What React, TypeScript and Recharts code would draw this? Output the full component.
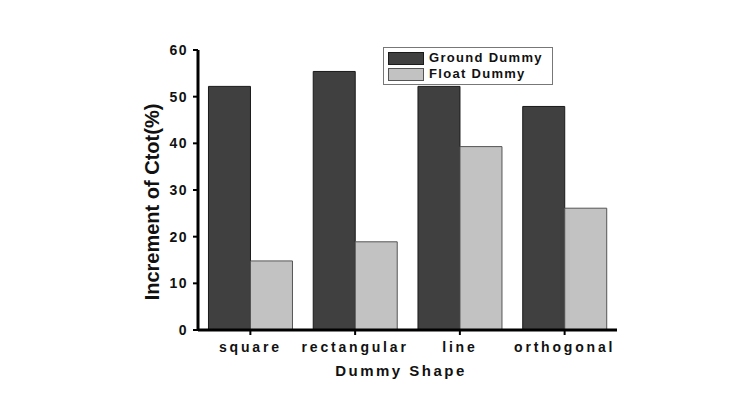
import { BarChart, Bar, XAxis, YAxis, Legend } from 'recharts'

const shapes = ['square', 'rectangular', 'line', 'orthogonal']
const groundDummy = [52.2, 55.4, 52.2, 47.9]
const floatDummy = [14.8, 18.9, 39.3, 26.1]
const yTicks = [0, 10, 20, 30, 40, 50, 60]

const FONT = '"Liberation Sans", Arial, sans-serif'

const data = shapes.map((shape, i) => ({
    shape,
    ground: groundDummy[i],
    float: floatDummy[i],
}))

const LegendBox = () => (
    <div
        style={{
            border: '1px solid #777',
            background: '#fff',
            padding: '2px 4px',
            width: 160,
            fontFamily: FONT,
            fontWeight: 'bold',
            fontSize: 13,
            letterSpacing: 1.3,
            color: '#111',
            lineHeight: '16px',
        }}
    >
        {[
            { label: 'Ground Dummy', fill: '#404040', stroke: '#1a1a1a' },
            { label: 'Float Dummy', fill: '#c2c2c2', stroke: '#555' },
        ].map(item => (
            <div key={item.label} style={{ display: 'flex', alignItems: 'center', gap: 5 }}>
                <div style={{ width: 34, height: 11, background: item.fill, border: `1px solid ${item.stroke}` }} />
                <span>{item.label}</span>
            </div>
        ))}
    </div>
)

export default function App() {
    return (
        <div style={{ position: 'absolute', left: 0, top: 0, width: 751, height: 406, background: '#fff' }}>
            <BarChart
                width={751}
                height={406}
                data={data}
                margin={{ top: 50, right: 134, bottom: 46, left: 138 }}
                barCategoryGap="10%"
                barGap={0}
            >
                <XAxis
                    dataKey="shape"
                    height={30}
                    axisLine={{ stroke: '#000', strokeWidth: 3 }}
                    tickLine={{ stroke: '#000', strokeWidth: 2 }}
                    tickSize={5}
                    tickMargin={7}
                    tick={{ fill: '#111', fontSize: 14, fontWeight: 'bold', fontFamily: FONT, letterSpacing: 2.8 }}
                />
                <YAxis
                    width={60}
                    domain={[0, 60]}
                    ticks={yTicks}
                    axisLine={{ stroke: '#000', strokeWidth: 3 }}
                    tickLine={{ stroke: '#000', strokeWidth: 2 }}
                    tickSize={5}
                    tickMargin={5}
                    tick={{ fill: '#111', fontSize: 14, fontWeight: 'bold', fontFamily: FONT, letterSpacing: 1.5 }}
                />
                <Legend
                    layout="vertical"
                    align="center"
                    verticalAlign="middle"
                    content={<LegendBox />}
                    wrapperStyle={{ position: 'absolute', left: 383, top: 47, width: 'auto' }}
                />
                <Bar dataKey="ground" fill="#404040" stroke="#1a1a1a" strokeWidth={1} isAnimationActive={false} />
                <Bar dataKey="float" fill="#c2c2c2" stroke="#555" strokeWidth={1} isAnimationActive={false} />
            </BarChart>
            <div
                style={{
                    position: 'absolute',
                    left: 152,
                    top: 202,
                    transform: 'translate(-50%, -50%) rotate(-90deg)',
                    whiteSpace: 'nowrap',
                    fontFamily: FONT,
                    fontWeight: 'bold',
                    fontSize: 20,
                    color: '#111',
                }}
            >
                Increment of Ctot(%)
            </div>
            <div
                style={{
                    position: 'absolute',
                    left: 401,
                    top: 370,
                    transform: 'translate(-50%, -50%)',
                    whiteSpace: 'nowrap',
                    fontFamily: FONT,
                    fontWeight: 'bold',
                    fontSize: 15,
                    letterSpacing: 2.5,
                    color: '#111',
                }}
            >
                Dummy Shape
            </div>
        </div>
    )
}
